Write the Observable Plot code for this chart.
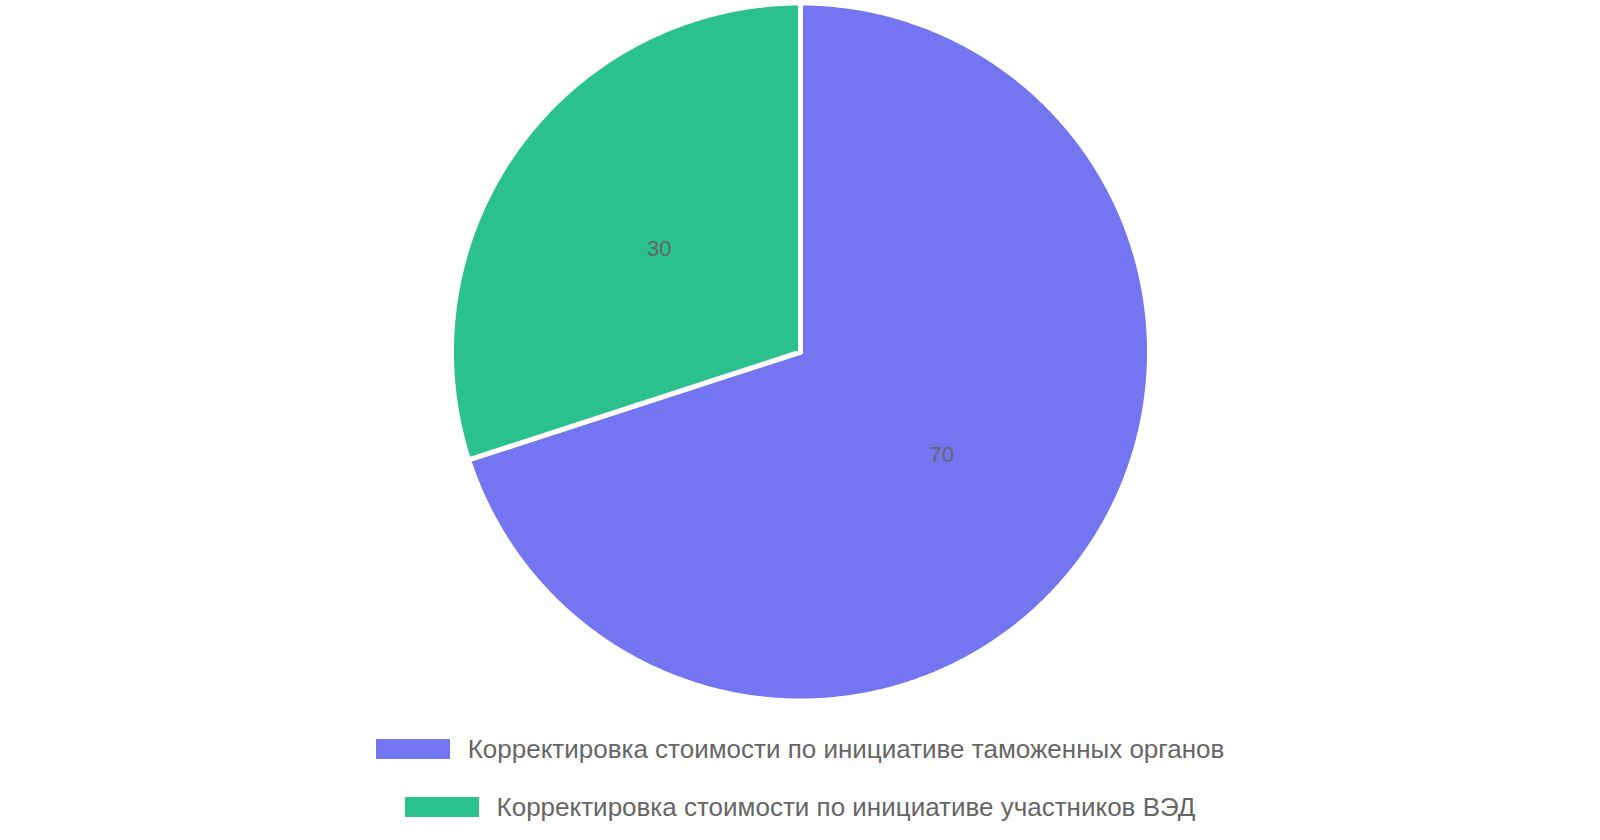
<!DOCTYPE html>
<html>
<head>
<meta charset="utf-8">
<script src="https://cdn.jsdelivr.net/npm/d3@7"></script>
<script src="https://cdn.jsdelivr.net/npm/@observablehq/plot@0.6"></script>
<style>
  html, body { margin: 0; padding: 0; background: #fff; }
  body { width: 1600px; height: 840px; overflow: hidden; font-family: "Liberation Sans", Arial, sans-serif; }
  #chart svg { display: block; }
  #legend { margin-top: 14px; }
  .row { height: 58px; display: flex; justify-content: center; align-items: center; }
  .sw { width: 74px; height: 20px; margin-right: 18px; }
  .lbl { font-size: 26px; color: #666; white-space: nowrap; }
</style>
</head>
<body>
<div id="chart"></div>
<div id="legend"></div>
<script>
const categories = [
  "Корректировка стоимости по инициативе таможенных органов",
  "Корректировка стоимости по инициативе участников ВЭД"
];
const values = [70, 30];
const colors = ["#7375F1", "#2AC18F"];

const W = 1600, H = 706, R = 349, CX = 800, CY = 351.5;

const pie = d3.pie().sort(null).value(d => d.value)(
  categories.map((name, i) => ({name, value: values[i]}))
);

// outline points of each slice in unit-circle space
const outline = [];
pie.forEach(s => {
  const pts = [[0, 0]];
  const n = Math.max(2, Math.ceil((s.endAngle - s.startAngle) / (Math.PI / 360)));
  for (let k = 0; k <= n; k++) {
    const a = s.startAngle + (s.endAngle - s.startAngle) * k / n;
    pts.push([Math.sin(a), Math.cos(a)]);
  }
  pts.push([0, 0]);
  pts.forEach(([x, y]) => outline.push({name: s.data.name, x, y}));
});

const labels = pie.map(s => {
  const a = (s.startAngle + s.endAngle) / 2;
  return {name: s.data.name, value: s.data.value, x: 0.5 * Math.sin(a), y: 0.5 * Math.cos(a)};
});

const chart = Plot.plot({
  width: W,
  height: H,
  margin: 0,
  x: {domain: [-1, 1], range: [CX - R, CX + R], axis: null},
  y: {domain: [-1, 1], range: [CY + R, CY - R], axis: null},
  color: {domain: categories, range: colors},
  style: {background: "#fff"},
  marks: [
    Plot.line(outline, {x: "x", y: "y", z: "name", fill: "name", stroke: "#fff", strokeWidth: 5, strokeLinejoin: "round"}),
    Plot.text(labels, {x: "x", y: "y", text: d => String(d.value), fill: "#666", fontSize: 22, fontFamily: "Liberation Sans, Arial, sans-serif"})
  ]
});
document.getElementById("chart").appendChild(chart);

const legend = document.getElementById("legend");
categories.forEach((c, i) => {
  const row = document.createElement("div");
  row.className = "row";
  const sw = document.createElement("div");
  sw.className = "sw";
  sw.style.background = colors[i];
  const lbl = document.createElement("span");
  lbl.className = "lbl";
  lbl.textContent = c;
  row.appendChild(sw);
  row.appendChild(lbl);
  legend.appendChild(row);
});
</script>
</body>
</html>
